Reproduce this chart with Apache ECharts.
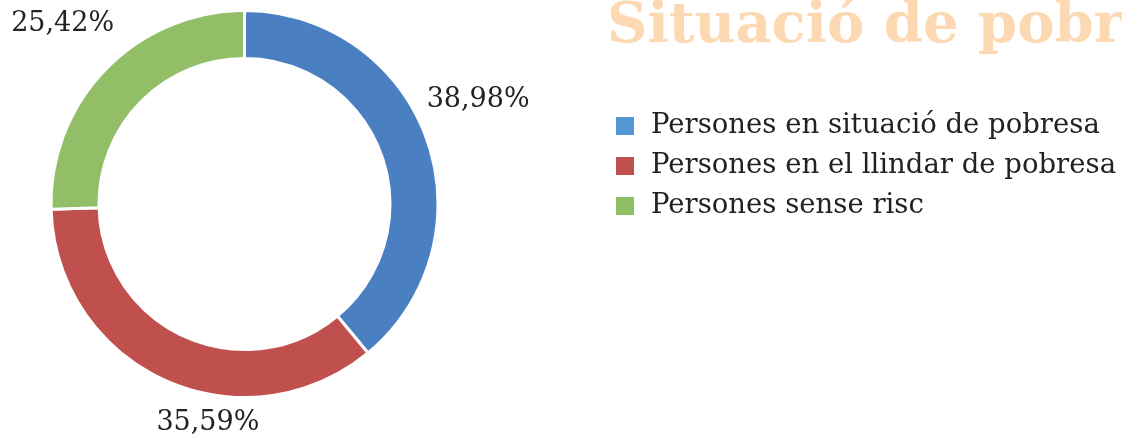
<!DOCTYPE html>
<html>
<head>
<meta charset="utf-8">
<script src="https://cdn.jsdelivr.net/npm/echarts@6/dist/echarts.min.js"></script>
<style>
  * { margin: 0; padding: 0; }
  body { background: #fff; }
</style>
</head>
<body>
<!-- contenidor del gràfic -->
<div id="main" style="width:1122px;height:438px;"></div>
<script>
var titol = "Situació de pobresa";
var categories = ["Persones en situació de pobresa", "Persones en el llindar de pobresa", "Persones sense risc"];
var valors = [38.98, 35.59, 25.42];
var colors = ["#4A80C2", "#C0504D", "#91BE66"];
var colorsLlegenda = ["#5397D3", "#C0504D", "#8FBF64"];

// desplaçament de les etiquetes respecte a la posició "outside"
var despEtiquetes = [[-19, -33], [106, 29], [24, -35]];

var chart = echarts.init(document.getElementById("main"));
chart.setOption({
  animation: false,
  title: {
    text: titol,
    left: 607,
    top: -1,
    padding: 0,
    textStyle: {
      color: "#FDD9B3",
      fontFamily: "DejaVu Serif",
      fontWeight: "bold",
      fontSize: 56
    }
  },
  legend: {
    orient: "vertical",
    left: 614,
    top: 112,
    padding: 0,
    itemWidth: 20,
    itemHeight: 20,
    itemGap: 12,
    icon: "rect",
    data: categories.map(function (c, i) {
      return { name: c, itemStyle: { color: colorsLlegenda[i] } };
    }),
    textStyle: {
      color: "#222",
      fontFamily: "DejaVu Serif",
      fontSize: 27.5,
      padding: [0, 0, 0, 11]
    }
  },
  series: [
    {
      type: "pie",
      center: [244.5, 204],
      radius: [145.5, 193.5],
      startAngle: 90,
      clockwise: true,
      avoidLabelOverlap: false,
      itemStyle: { borderColor: "#fff", borderWidth: 3 },
      label: {
        show: true,
        position: "outside",
        formatter: function (p) {
          return p.value.toFixed(2).replace(".", ",") + "%";
        },
        color: "#222",
        fontFamily: "DejaVu Serif",
        fontSize: 27
      },
      labelLine: { show: false, length: 15, length2: 0 },
      labelLayout: function (p) {
        var d = despEtiquetes[p.dataIndex];
        return { dx: d[0], dy: d[1] };
      },
      data: categories.map(function (c, i) {
        return { name: c, value: valors[i], itemStyle: { color: colors[i] } };
      })
    }
  ]
});
</script>
</body>
</html>
